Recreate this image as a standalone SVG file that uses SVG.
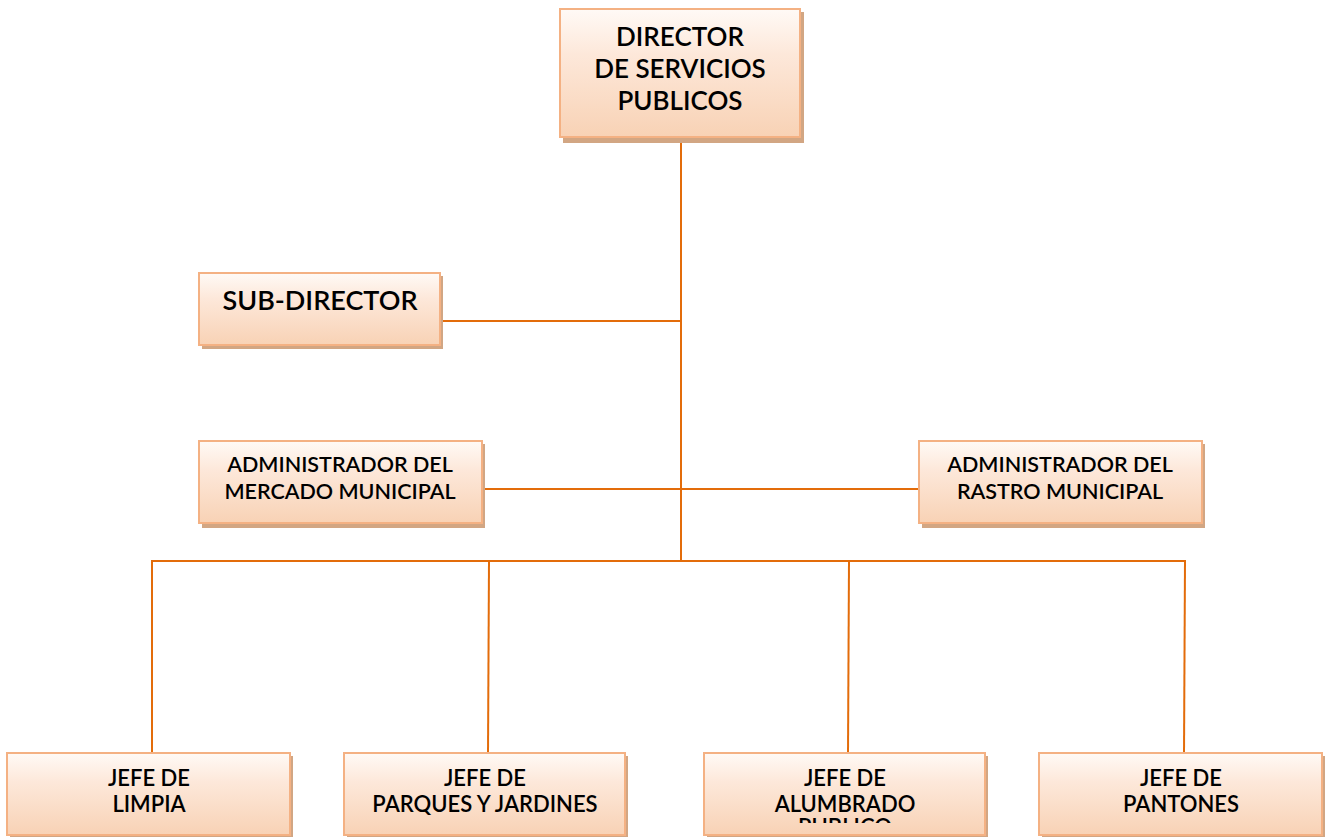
<svg xmlns="http://www.w3.org/2000/svg" width="1328" height="837" viewBox="0 0 1328 837">
<defs>
<linearGradient id="g" x1="0" y1="0" x2="0" y2="1">
<stop offset="0" stop-color="#fffaf6"/>
<stop offset="0.35" stop-color="#fde8da"/>
<stop offset="1" stop-color="#f8d2b5"/>
</linearGradient>
<clipPath id="clipAl"><rect x="704" y="753" width="281" height="70"/></clipPath>
</defs>
<style>
.box{fill:url(#g);stroke:#f4b183;stroke-width:2}
.sh{fill:#d2a683}
.t{font-family:Lato,"Liberation Sans",sans-serif;font-weight:600;fill:#000;text-anchor:middle}
.big{font-size:26px}
.sub{font-size:27px}
.mid{font-size:21.5px}
.sm{font-size:22px}
.c{stroke:#e36c0a;stroke-width:2;fill:none}
</style>
<rect width="1328" height="837" fill="#fff"/>
<g id="connectors">
<line class="c" x1="681" y1="137" x2="681" y2="562"/>
<line class="c" x1="440" y1="321" x2="681" y2="321"/>
<line class="c" x1="482" y1="489" x2="919" y2="489"/>
<line class="c" x1="152" y1="561" x2="1186" y2="561"/>
<line class="c" x1="152" y1="560" x2="152" y2="753"/>
<line class="c" x1="489" y1="560" x2="488" y2="753"/>
<line class="c" x1="849" y1="560" x2="848" y2="753"/>
<line class="c" x1="1185" y1="560" x2="1184" y2="753"/>
</g>
<g id="director">
<rect class="sh" x="563" y="12" width="241" height="131"/>
<rect class="box" x="560" y="9" width="240" height="128"/>
<text class="t big" x="680" y="46">DIRECTOR</text>
<text class="t big" x="680" y="78">DE SERVICIOS</text>
<text class="t big" x="680" y="110">PUBLICOS</text>
</g>
<g id="subdirector">
<rect class="sh" x="202" y="276" width="241" height="73"/>
<rect class="box" x="199" y="273" width="241" height="72"/>
<text class="t sub" x="320" y="310">SUB-DIRECTOR</text>
</g>
<g id="admin-mercado">
<rect class="sh" x="202" y="444" width="283" height="84"/>
<rect class="box" x="199" y="441" width="283" height="82"/>
<text class="t mid" x="340" y="472">ADMINISTRADOR DEL</text>
<text class="t mid" x="340" y="499">MERCADO MUNICIPAL</text>
</g>
<g id="admin-rastro">
<rect class="sh" x="922" y="444" width="283" height="84"/>
<rect class="box" x="919" y="441" width="283" height="82"/>
<text class="t mid" x="1060" y="472">ADMINISTRADOR DEL</text>
<text class="t mid" x="1060" y="499">RASTRO MUNICIPAL</text>
</g>
<g id="jefe-limpia">
<rect class="sh" x="10" y="756" width="283" height="84"/>
<rect class="box" x="7" y="753" width="283" height="82"/>
<text class="t sm" x="149" y="786">JEFE DE</text>
<text class="t sm" x="149" y="812">LIMPIA</text>
</g>
<g id="jefe-parques">
<rect class="sh" x="347" y="756" width="281" height="84"/>
<rect class="box" x="344" y="753" width="281" height="82"/>
<text class="t sm" x="485" y="786">JEFE DE</text>
<text class="t sm" x="485" y="812">PARQUES Y JARDINES</text>
</g>
<g id="jefe-alumbrado">
<rect class="sh" x="707" y="756" width="281" height="84"/>
<rect class="box" x="704" y="753" width="281" height="82"/>
<g clip-path="url(#clipAl)">
<text class="t sm" x="845" y="786">JEFE DE</text>
<text class="t sm" x="845" y="812">ALUMBRADO</text>
<text class="t sm" x="845" y="835">PUBLICO</text>
</g>
</g>
<g id="jefe-pantones">
<rect class="sh" x="1042" y="756" width="283" height="84"/>
<rect class="box" x="1039" y="753" width="283" height="82"/>
<text class="t sm" x="1181" y="786">JEFE DE</text>
<text class="t sm" x="1181" y="812">PANTONES</text>
</g>
</svg>
